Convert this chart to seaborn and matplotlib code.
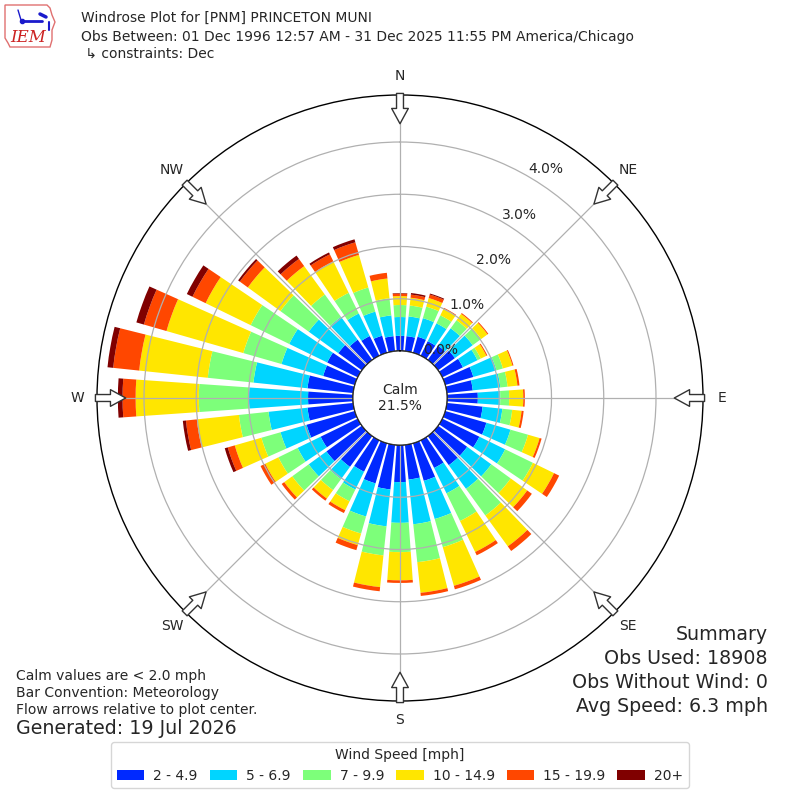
import numpy as np
import matplotlib
matplotlib.use("Agg")
import matplotlib.pyplot as plt
from matplotlib.patches import Polygon
import seaborn as sns

# wind directions (deg, meteorological) and speed bins
directions = np.arange(0, 360, 10)
speed_bins = ["2 - 4.9", "5 - 6.9", "7 - 9.9", "10 - 14.9", "15 - 19.9", "20+"]

# frequency [% of obs] per direction, one list per speed bin
freq_2_5 = [0.29, 0.29, 0.32, 0.31, 0.34, 0.40, 0.44, 0.56, 0.50, 0.59, 0.69, 0.82,
            0.79, 0.69, 0.69, 0.59, 0.75, 0.67, 0.71, 0.86, 0.80, 0.67, 0.73, 0.84,
            0.79, 0.96, 0.88, 0.86, 0.88, 0.63, 0.65, 0.56, 0.48, 0.42, 0.34, 0.29]
freq_5_7 = [0.36, 0.38, 0.37, 0.38, 0.41, 0.42, 0.31, 0.46, 0.53, 0.43, 0.38, 0.48,
            0.55, 0.57, 0.56, 0.54, 0.76, 0.86, 0.78, 0.71, 0.66, 0.38, 0.29, 0.42,
            0.49, 0.52, 0.75, 1.13, 1.04, 0.83, 0.81, 0.70, 0.54, 0.48, 0.48, 0.40]
freq_7_10 = [0.23, 0.21, 0.23, 0.17, 0.19, 0.20, 0.07, 0.13, 0.14, 0.17, 0.19, 0.35,
             0.59, 0.46, 0.63, 0.59, 0.56, 0.73, 0.56, 0.56, 0.34, 0.25, 0.26, 0.39,
             0.41, 0.38, 0.57, 0.96, 0.88, 0.76, 0.82, 0.67, 0.53, 0.44, 0.48, 0.33]
freq_10_15 = [0.17, 0.15, 0.17, 0.14, 0.15, 0.15, 0.12, 0.19, 0.19, 0.27, 0.18, 0.23,
              0.45, 0.39, 0.73, 0.66, 0.77, 0.59, 0.54, 0.61, 0.23, 0.19, 0.20, 0.19,
              0.28, 0.53, 0.81, 1.21, 1.32, 1.53, 0.96, 0.77, 0.67, 0.67, 0.65, 0.38]
freq_15_20 = [0.05, 0.06, 0.07, 0.02, 0.02, 0.02, 0.02, 0.02, 0.04, 0.03, 0.04, 0.04,
              0.11, 0.11, 0.11, 0.07, 0.07, 0.06, 0.05, 0.08, 0.10, 0.06, 0.05, 0.06,
              0.10, 0.14, 0.21, 0.25, 0.50, 0.45, 0.28, 0.19, 0.17, 0.15, 0.25, 0.11]
freq_20_up = [0.01, 0.03, 0.02, 0.00, 0.00, 0.00, 0.00, 0.00, 0.00, 0.00, 0.00, 0.00,
              0.00, 0.00, 0.00, 0.00, 0.00, 0.00, 0.00, 0.00, 0.00, 0.00, 0.00, 0.00,
              0.00, 0.06, 0.06, 0.09, 0.11, 0.15, 0.12, 0.04, 0.08, 0.04, 0.06, 0.00]
series = [freq_2_5, freq_5_7, freq_7_10, freq_10_15, freq_15_20, freq_20_up]

calm_pct = 21.5
ring_ticks = [0, 1, 2, 3, 4]
compass_deg = np.arange(0, 360, 45)
compass = ["N", "NE", "E", "SE", "S", "SW", "W", "NW"]

sns.set_style("white")
plt.rcParams["font.family"] = ["DejaVu Sans"]
plt.rcParams["font.size"] = 10

colors = sns.color_palette(plt.get_cmap("jet")(np.linspace(0, 1, 7)[1:]))

fig = plt.figure(figsize=(8, 8), dpi=100)
ax = fig.add_axes([0.12125, 0.12375, 0.7575, 0.7575], projection="polar")
ax.set_theta_zero_location("N")
ax.set_theta_direction(-1)

theta = np.radians(directions)
bottom = np.zeros(len(directions))
for vals, col, lab in zip(series, colors, speed_bins):
    ax.bar(theta, vals, width=np.radians(8), bottom=bottom, color=col,
           label=lab, linewidth=0, zorder=1)
    bottom = bottom + np.array(vals)

ax.set_ylim(0, 4.9)
ax.set_rorigin(-0.9)
ax.set_axisbelow(False)
ax.set_rgrids(ring_ticks, labels=[f"{t:.1f}%" for t in ring_ticks], angle=30)
ax.set_thetagrids(compass_deg, labels=compass)
ax.tick_params(axis="x", pad=3.5)
ax.grid(True, color="#b0b0b0", linewidth=0.9)
ax.spines["polar"].set_color("black")
ax.spines["polar"].set_linewidth(1.0)

# calm circle
circ = np.linspace(0, 2 * np.pi, 361)
ax.plot(circ, np.zeros_like(circ), color="black", linewidth=1.0, zorder=4)
ax.text(0.5, 0.5, f"Calm\n{calm_pct}%", transform=ax.transAxes,
        ha="center", va="center", fontsize=10, zorder=5)

# flow arrows
for d in compass_deg:
    ax.annotate("", xy=(np.radians(d), 4.35), xytext=(np.radians(d), 4.93),
                arrowprops=dict(arrowstyle="simple,head_length=1.1,head_width=1.2,tail_width=0.5",
                                fc="white", ec="#333333", lw=1, shrinkA=0, shrinkB=0),
                annotation_clip=False, zorder=6)

fig.legend(loc="lower center", bbox_to_anchor=(0.5, 0.006), ncol=6,
           title="Wind Speed [mph]", fontsize=10, title_fontsize=10,
           handletextpad=0.65, columnspacing=0.85)

# header
fig.text(81 / 800, 1 - 18 / 800, "Windrose Plot for [PNM] PRINCETON MUNI", va="center", fontsize=10)
fig.text(81 / 800, 1 - 37 / 800,
         "Obs Between: 01 Dec 1996 12:57 AM - 31 Dec 2025 11:55 PM America/Chicago",
         va="center", fontsize=10)
fig.text(81 / 800, 1 - 54 / 800, " \u21b3 constraints: Dec", va="center", fontsize=10)

# footers
left_notes = ["Calm values are < 2.0 mph", "Bar Convention: Meteorology",
              "Flow arrows relative to plot center."]
for i, t in enumerate(left_notes):
    fig.text(16 / 800, 1 - (676 + 17 * i) / 800, t, va="center", fontsize=10)
fig.text(16 / 800, 1 - 729 / 800, "Generated: 19 Jul 2026", va="center", fontsize=13.7)

summary = ["Summary", "Obs Used: 18908", "Obs Without Wind: 0", "Avg Speed: 6.3 mph"]
for i, t in enumerate(summary):
    fig.text(768 / 800, 1 - (635 + 23.7 * i) / 800, t, va="center", ha="right", fontsize=13.7)

# IEM logo (rough)
lax = fig.add_axes([0, 1 - 52 / 800, 70 / 800, 52 / 800])
lax.set_xlim(0, 70)
lax.set_ylim(52, 0)
lax.axis("off")
outline = [(5, 5), (47, 5), (50, 8), (52, 15), (55, 22), (52, 30), (52, 40), (50, 47),
           (10, 47), (8, 43), (5, 38)]
lax.add_patch(Polygon(outline, closed=True, fill=False, ec="#e07070", lw=1))
lax.plot([22, 42], [21, 21], color="#1a1acc", lw=2)
lax.plot([18, 21], [10, 20], color="#1a1acc", lw=1)
lax.plot([40, 46], [14, 17], color="#1a1acc", lw=2.5)
lax.plot([49, 49], [22, 30], color="#1a1acc", lw=1.5)
lax.plot([22], [21], "o", color="#1a1acc", ms=3)
lax.text(28, 37, "IEM", ha="center", va="center", color="#cc2222", fontsize=12,
         family="DejaVu Serif", style="italic")

fig.savefig("out.png", dpi=100)
